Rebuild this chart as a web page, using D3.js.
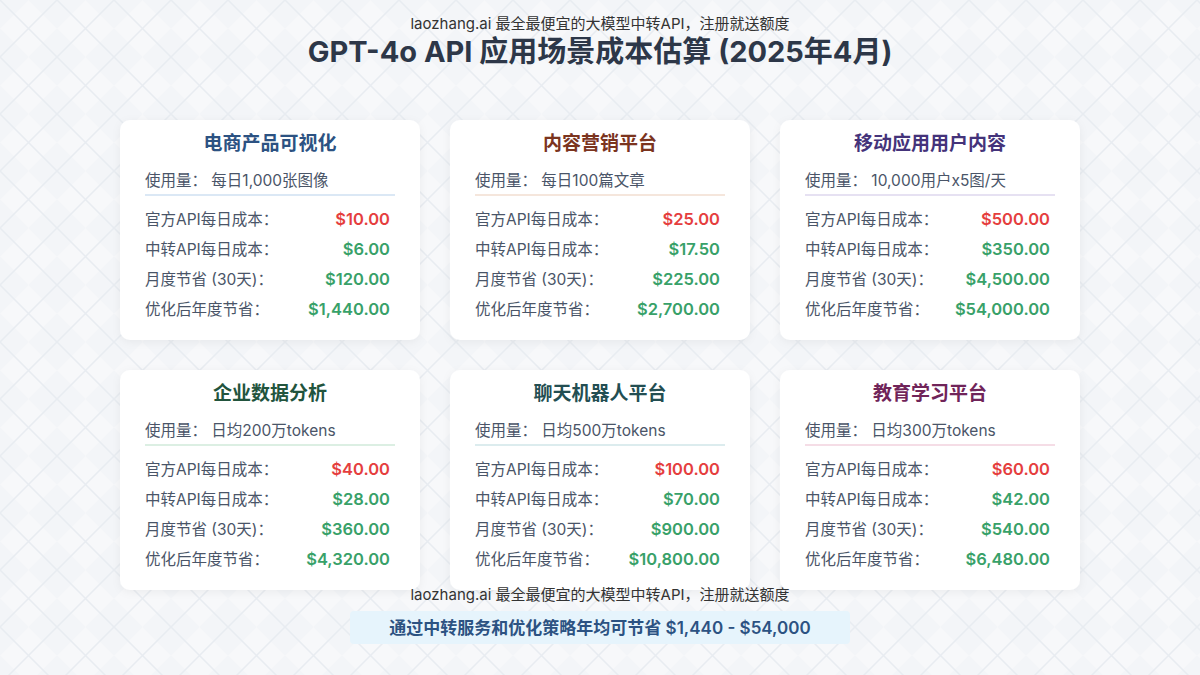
<!DOCTYPE html><html><head><meta charset="utf-8"><script src="https://cdn.jsdelivr.net/npm/d3@7"></script>
<style>body{margin:0}svg{display:block;font-family:Inter,"Noto Sans CJK SC",sans-serif}</style></head><body><svg id="c" width="1200" height="675"></svg>
<script>
const titles=["电商产品可视化","内容营销平台","移动应用用户内容","企业数据分析","聊天机器人平台","教育学习平台"];
const usage=["每日1,000张图像","每日100篇文章","10,000用户x5图/天","日均200万tokens","日均500万tokens","日均300万tokens"];
const official=[10,25,500,40,100,60];
const relay=[6,17.5,350,28,70,42];
const monthly=[120,225,4500,360,900,540];
const yearly=[1440,2700,54000,4320,10800,6480];
const rowLabels=["官方API每日成本：","中转API每日成本：","月度节省 (30天)：","优化后年度节省："];
const titleColors=["#2c5282","#7b341e","#44337a","#22543d","#234e52","#702459"];
const lineColors=["#dbe8f5","#f5e6dc","#e6e1f2","#dcefe3","#dcecee","#f5dde6"];
const svg=d3.select("#c");
const defs=svg.append("defs");
const p=defs.append("pattern").attr("id","pt").attr("width",57).attr("height",57).attr("patternUnits","userSpaceOnUse");
p.append("rect").attr("width",57).attr("height",57).attr("fill","#f3f5f8");
p.append("path").attr("d","M28.5,0L57,28.5L28.5,57L0,28.5Z").attr("fill","#f7f8fa");
p.append("path").attr("d","M0,0L57,57M57,0L0,57").attr("stroke","#e8ecf1").attr("stroke-width",1.5).attr("fill","none");
defs.append("filter").attr("id","sh").append("feDropShadow").attr("dx",0).attr("dy",2).attr("stdDeviation",4).attr("flood-color","#000").attr("flood-opacity",0.05);
svg.append("rect").attr("width",1200).attr("height",675).attr("fill","url(#pt)");
svg.append("text").attr("x",600).attr("y",29).attr("text-anchor","middle").attr("font-size",15).attr("fill","#333").text("laozhang.ai 最全最便宜的大模型中转API，注册就送额度");
svg.append("text").attr("x",600).attr("y",62).attr("text-anchor","middle").attr("font-size",29).attr("font-weight",700).attr("fill","#2d3748").text("GPT-4o API 应用场景成本估算 (2025年4月)");
const fmt=v=>"$"+d3.format(",.2f")(v);
const xs=d3.scaleBand().domain([0,1,2]).range([120,1080]).paddingInner(0.0909);
titles.forEach((t,i)=>{
 const x=xs(i%3), y=i<3?120:370, w=xs.bandwidth();
 const c=svg.append("g").attr("transform",`translate(${x},${y})`);
 c.append("rect").attr("width",w).attr("height",220).attr("rx",10).attr("fill","#fff").attr("filter","url(#sh)");
 c.append("text").attr("x",w/2).attr("y",30).attr("text-anchor","middle").attr("font-size",19).attr("font-weight",600).attr("fill",titleColors[i]).text(t);
 c.append("text").attr("x",25).attr("y",66).attr("font-size",15.5).attr("fill","#4a5568").text("使用量： "+usage[i]);
 c.append("line").attr("x1",25).attr("x2",275).attr("y1",75).attr("y2",75).attr("stroke",lineColors[i]).attr("stroke-width",2);
 const vals=[official[i],relay[i],monthly[i],yearly[i]];
 rowLabels.forEach((l,j)=>{
  const yy=105+j*30;
  c.append("text").attr("x",25).attr("y",yy).attr("font-size",15.5).attr("fill","#4a5568").text(l);
  c.append("text").attr("x",270).attr("y",yy).attr("text-anchor","end").attr("font-size",16.5).attr("font-weight",600).attr("fill",j==0?"#e53e3e":"#38a169").text(fmt(vals[j]));
 });
});
svg.append("text").attr("x",600).attr("y",600).attr("text-anchor","middle").attr("font-size",15).attr("fill","#333").text("laozhang.ai 最全最便宜的大模型中转API，注册就送额度");
svg.append("rect").attr("x",350).attr("y",611).attr("width",500).attr("height",33).attr("rx",4).attr("fill","#e6f4fc");
svg.append("text").attr("x",600).attr("y",634).attr("text-anchor","middle").attr("font-size",17).attr("font-weight",600).attr("fill","#2c5282").text("通过中转服务和优化策略年均可节省 $1,440 - $54,000");
</script></body></html>
